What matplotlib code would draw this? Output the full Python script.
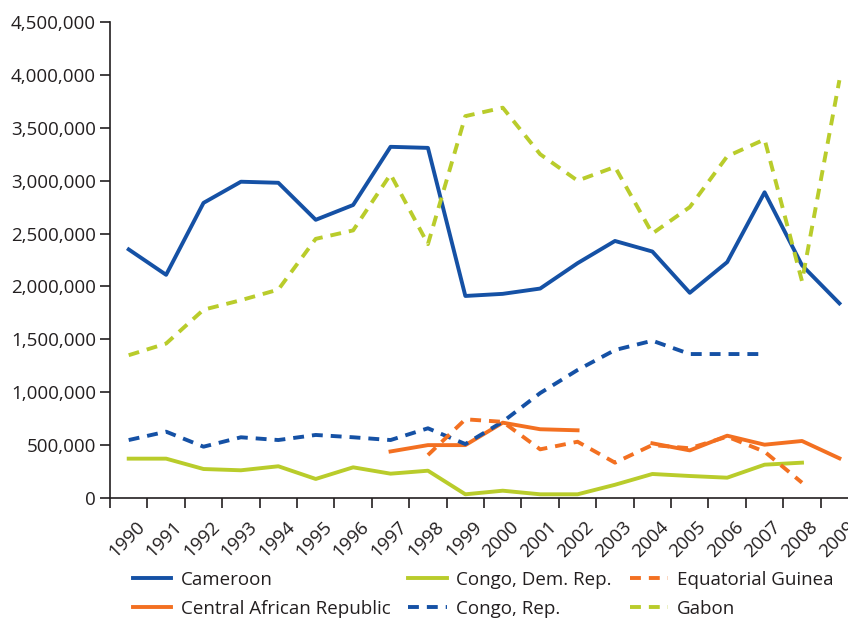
#!/usr/bin/env python3

import matplotlib
matplotlib.use("Agg")
import matplotlib.pyplot as plt
import matplotlib.transforms as mtransforms
from matplotlib.ticker import FuncFormatter, FixedLocator
import numpy as np

nan = np.nan

years = list(range(1990, 2010))

cameroon = [2350000, 2110000, 2790000, 2990000, 2980000, 2630000, 2770000, 3320000, 3310000, 1910000,
            1930000, 1980000, 2220000, 2430000, 2330000, 1940000, 2230000, 2890000, 2200000, 1840000]
car = [nan, nan, nan, nan, nan, nan, nan, 440000, 500000, 500000,
       712000, 650000, 640000, nan, 517000, 450000, 589000, 504000, 539000, 375000]
congo_dr = [372000, 372000, 274000, 262000, 300000, 180000, 290000, 230000, 258000, 35000,
            69000, 35000, 35000, 125000, 227000, 208000, 192000, 315000, 334000, nan]
congo_rep = [548000, 627000, 485000, 574000, 548000, 596000, 574000, 548000, 659000, 510000,
             721000, 992000, 1210000, 1399000, 1487000, 1361000, 1361000, 1361000, nan, nan]
eq_guinea = [nan, nan, nan, nan, nan, nan, nan, nan, 406000, 744000,
             720000, 460000, 532000, 334000, 501000, 470000, 580000, 438000, 145000, nan]
gabon = [1350000, 1460000, 1780000, 1870000, 1970000, 2450000, 2530000, 3060000, 2400000, 3610000,
         3690000, 3250000, 3000000, 3130000, 2500000, 2750000, 3230000, 3390000, 2050000, 3950000]

BLUE = "#1551a5"
GREEN = "#b9cc2b"
ORANGE = "#f37021"
INK = "#231f20"


def main():
    plt.rcParams["font.family"] = ["Open Sans", "DejaVu Sans"]
    fig = plt.figure(figsize=(8.48, 6.19), dpi=100)
    ax = fig.add_axes([110 / 848, 121 / 619, 738 / 848, 476 / 619])

    x = np.arange(len(years))
    lw = 2.8
    dash = (0, (2.8, 2.05))
    ax.plot(x, cameroon, color=BLUE, lw=lw, label="Cameroon")
    ax.plot(x, car, color=ORANGE, lw=lw, label="Central African Republic")
    ax.plot(x, congo_dr, color=GREEN, lw=lw, label="Congo, Dem. Rep.")
    ax.plot(x, congo_rep, color=BLUE, lw=lw, ls=dash, label="Congo, Rep.")
    ax.plot(x, eq_guinea, color=ORANGE, lw=lw, ls=dash, label="Equatorial Guinea")
    ax.plot(x, gabon, color=GREEN, lw=lw, ls=dash, label="Gabon")

    ax.set_xlim(-0.5, 19.23)
    ax.set_ylim(0, 4500000)
    ax.set_yticks(np.arange(0, 4500001, 500000))
    ax.yaxis.set_major_formatter(FuncFormatter(lambda v, p: f"{int(v):,}"))

    ax.set_xticks(x)
    ax.set_xticklabels([str(y) for y in years], rotation=45, ha="right",
                       rotation_mode="anchor")
    ax.xaxis.set_minor_locator(FixedLocator(np.arange(-0.5, 20, 1)))
    ax.tick_params(axis="x", which="major", length=0, pad=14, labelsize=13.5, colors=INK)
    ax.tick_params(axis="x", which="minor", length=7, width=1.2, color=INK)
    ax.tick_params(axis="y", length=7, width=1.2, labelsize=13.5, colors=INK, pad=3)
    offset = mtransforms.ScaledTranslation(7 / 100, 0, fig.dpi_scale_trans)
    for lbl in ax.get_xticklabels():
        lbl.set_transform(lbl.get_transform() + offset)

    for s in ["top", "right"]:
        ax.spines[s].set_visible(False)
    for s in ["left", "bottom"]:
        ax.spines[s].set_linewidth(1.2)
        ax.spines[s].set_color(INK)

    fig.legend(loc="upper left", bbox_to_anchor=(133 / 848, 1 - 571 / 619), ncol=3,
               frameon=False, fontsize=13.5, handlelength=2.05, handletextpad=0.5,
               columnspacing=0.95, labelspacing=0.57, borderpad=0, borderaxespad=0,
               labelcolor=INK)

    fig.savefig("out.png", dpi=100)
    plt.close(fig)


if __name__ == "__main__":
    main()
